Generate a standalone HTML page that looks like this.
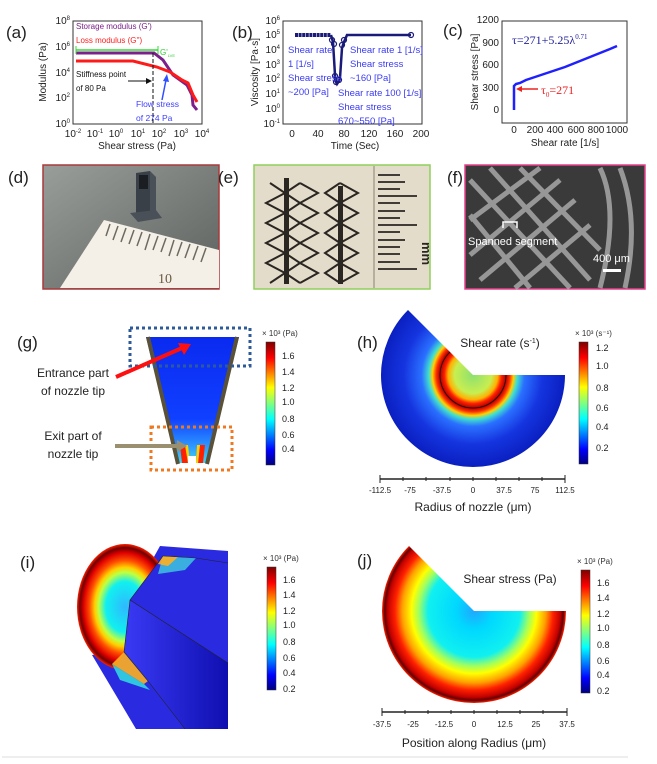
<!DOCTYPE html>
<html><head><meta charset="utf-8"><style>
body{margin:0;background:#fff}
svg{display:block;font-family:"Liberation Sans",sans-serif}
.t{font-size:10px;fill:#222}
.pl{font-size:17px;fill:#222}
.bl{font-size:9.5px;fill:#3b3bf2}
</style></head><body>
<svg width="657" height="764" viewBox="0 0 657 764" xmlns="http://www.w3.org/2000/svg">
<defs>
<linearGradient id="jet" x1="0" y1="1" x2="0" y2="0">
<stop offset="0" stop-color="#00007f"/><stop offset="0.12" stop-color="#0000ff"/><stop offset="0.37" stop-color="#00ffff"/><stop offset="0.5" stop-color="#80ff80"/><stop offset="0.63" stop-color="#ffff00"/><stop offset="0.87" stop-color="#ff0000"/><stop offset="1" stop-color="#7f0000"/>
</linearGradient>
<radialGradient id="gh" gradientUnits="userSpaceOnUse" cx="473" cy="375" r="92">
<stop offset="0" stop-color="#8ee070"/><stop offset="0.2" stop-color="#c8ee50"/><stop offset="0.27" stop-color="#ffb000"/><stop offset="0.31" stop-color="#ff2000"/><stop offset="0.36" stop-color="#b00000"/><stop offset="0.4" stop-color="#ff3000"/><stop offset="0.44" stop-color="#ffd000"/><stop offset="0.48" stop-color="#40e0d0"/><stop offset="0.56" stop-color="#2a70ff"/><stop offset="0.75" stop-color="#1535e0"/><stop offset="1" stop-color="#0a1fc0"/>
</radialGradient>
<radialGradient id="gj" gradientUnits="userSpaceOnUse" cx="474" cy="611" r="92">
<stop offset="0" stop-color="#20a8ff"/><stop offset="0.2" stop-color="#00d8ff"/><stop offset="0.5" stop-color="#10f0f0"/><stop offset="0.6" stop-color="#a0ff60"/><stop offset="0.68" stop-color="#ffff00"/><stop offset="0.78" stop-color="#ffa000"/><stop offset="0.86" stop-color="#ff2000"/><stop offset="0.94" stop-color="#c00000"/><stop offset="0.97" stop-color="#600000"/><stop offset="1" stop-color="#ff2000"/>
</radialGradient>
<radialGradient id="gi" cx="0.5" cy="0.5" r="0.5">
<stop offset="0" stop-color="#30b8ff"/><stop offset="0.4" stop-color="#10f0f0"/><stop offset="0.55" stop-color="#c0ff40"/><stop offset="0.63" stop-color="#ffd000"/><stop offset="0.74" stop-color="#ff5000"/><stop offset="0.86" stop-color="#e00000"/><stop offset="0.94" stop-color="#700000"/><stop offset="1" stop-color="#ff2000"/>
</radialGradient>
<linearGradient id="gblue" x1="0" y1="0" x2="1" y2="0"><stop offset="0" stop-color="#3a3af5"/><stop offset="1" stop-color="#0f0fb0"/></linearGradient>
<linearGradient id="gg" x1="0" y1="0" x2="0" y2="1"><stop offset="0" stop-color="#0a2af0"/><stop offset="0.65" stop-color="#1040ff"/><stop offset="0.85" stop-color="#2a90ff"/><stop offset="1" stop-color="#40d8f0"/></linearGradient>
<linearGradient id="gd" x1="0" y1="0" x2="1" y2="1"><stop offset="0" stop-color="#9a9e9a"/><stop offset="1" stop-color="#5c605e"/></linearGradient>
<clipPath id="ci"><polygon points="60,530 175,530 163,556 130,600 124,652 100,700 60,700"/></clipPath>
</defs>

<!-- (a) -->
<text class="pl" x="6" y="38">(a)</text>
<rect x="73" y="21" width="129" height="103" fill="none" stroke="#333" stroke-width="1"/>
<g class="t" text-anchor="end" font-size="9">
<text x="70" y="24">10<tspan dy="-4" font-size="6">8</tspan></text>
<text x="70" y="50">10<tspan dy="-4" font-size="6">6</tspan></text>
<text x="70" y="76">10<tspan dy="-4" font-size="6">4</tspan></text>
<text x="70" y="101">10<tspan dy="-4" font-size="6">2</tspan></text>
<text x="70" y="127">10<tspan dy="-4" font-size="6">0</tspan></text>
</g>
<g class="t" text-anchor="middle" font-size="9">
<text x="73" y="137">10<tspan dy="-4" font-size="6">-2</tspan></text>
<text x="95" y="137">10<tspan dy="-4" font-size="6">-1</tspan></text>
<text x="116" y="137">10<tspan dy="-4" font-size="6">0</tspan></text>
<text x="138" y="137">10<tspan dy="-4" font-size="6">1</tspan></text>
<text x="159" y="137">10<tspan dy="-4" font-size="6">2</tspan></text>
<text x="181" y="137">10<tspan dy="-4" font-size="6">3</tspan></text>
<text x="202" y="137">10<tspan dy="-4" font-size="6">4</tspan></text>
</g>
<text class="t" x="137" y="149" text-anchor="middle" font-size="8.5">Shear stress (Pa)</text>
<text class="t" transform="translate(46,72) rotate(-90)" text-anchor="middle" font-size="8.5">Modulus (Pa)</text>
<polyline points="76,53 154,53 163,60 173,75 187,85 192,95 193,105 197,110" fill="none" stroke="#7b1f8a" stroke-width="3"/>
<polyline points="76,61 133,61 157,67 170,72 182,80 188,83 193,95 197,102" fill="none" stroke="#ff1a1a" stroke-width="3"/>
<line x1="76" y1="50" x2="158" y2="50" stroke="#33dd33" stroke-width="1.5"/><line x1="76" y1="46" x2="76" y2="54" stroke="#33dd33"/><line x1="158" y1="46" x2="158" y2="54" stroke="#33dd33"/>
<text x="160" y="55" font-size="8" fill="#33cc33">G'<tspan font-size="4" dy="2">LVE</tspan></text>
<line x1="153" y1="53" x2="153" y2="124" stroke="#111" stroke-dasharray="4,2"/>
<line x1="128" y1="81" x2="150" y2="81" stroke="#111"/><polygon points="152,81 146,78 146,84" fill="#111"/>
<text x="76" y="29" font-size="8" fill="#7b1f8a">Storage modulus (G')</text>
<text x="76" y="43" font-size="8" fill="#ff2020">Loss modulus (G'')</text>
<text x="76" y="77" font-size="8" fill="#111">Stiffness point</text>
<text x="76" y="91" font-size="8" fill="#111">of 80 Pa</text>
<text x="136" y="107" font-size="8.5" fill="#4040ff">Flow stress</text>
<text x="136" y="121" font-size="8.5" fill="#4040ff">of 274 Pa</text>
<line x1="162" y1="100" x2="166" y2="80" stroke="#3050ff" stroke-width="1.5"/><polygon points="167,74 163,81 169,82" fill="#3050ff"/>

<!-- (b) -->
<text class="pl" x="232" y="38">(b)</text>
<rect x="283" y="21" width="139" height="103" fill="none" stroke="#333"/>
<g class="t" text-anchor="end" font-size="9">
<text x="280" y="24">10<tspan dy="-4" font-size="6">6</tspan></text>
<text x="280" y="38">10<tspan dy="-4" font-size="6">5</tspan></text>
<text x="280" y="53">10<tspan dy="-4" font-size="6">4</tspan></text>
<text x="280" y="68">10<tspan dy="-4" font-size="6">3</tspan></text>
<text x="280" y="82">10<tspan dy="-4" font-size="6">2</tspan></text>
<text x="280" y="97">10<tspan dy="-4" font-size="6">1</tspan></text>
<text x="280" y="112">10<tspan dy="-4" font-size="6">0</tspan></text>
<text x="280" y="127">10<tspan dy="-4" font-size="6">-1</tspan></text>
</g>
<g class="t" text-anchor="middle" font-size="9.5">
<text x="292" y="137">0</text><text x="318" y="137">40</text><text x="344" y="137">80</text><text x="369" y="137">120</text><text x="395" y="137">160</text><text x="421" y="137">200</text>
</g>
<text class="t" x="355" y="149" text-anchor="middle" font-size="10">Time (Sec)</text>
<text class="t" transform="translate(258,72) rotate(-90)" text-anchor="middle" font-size="10">Viscosity [Pa·s]</text>
<line x1="295" y1="35" x2="331" y2="35" stroke="#1a1a7a" stroke-width="4" stroke-dasharray="3,0.6"/>
<polyline points="331,35 333,42 335,75 335,80 337,84 339,81 340,78 342,48 344,42 347,35 411,35" fill="none" stroke="#1a1a7a" stroke-width="2.5"/>
<g fill="none" stroke="#1a1a7a" stroke-width="1.2">
<circle cx="332" cy="40" r="2.5"/><circle cx="334" cy="44" r="2.5"/><circle cx="335" cy="76" r="2.5"/><circle cx="336" cy="82" r="2.5"/><circle cx="339" cy="80" r="2.5"/><circle cx="342" cy="45" r="2.5"/><circle cx="344" cy="40" r="2.5"/><circle cx="411" cy="35" r="2.5"/>
</g>
<text class="bl" x="288" y="53">Shear rate</text><text class="bl" x="288" y="67">1 [1/s]</text><text class="bl" x="288" y="81">Shear stress</text><text class="bl" x="288" y="95">~200 [Pa]</text>
<text class="bl" x="350" y="53">Shear rate 1 [1/s]</text><text class="bl" x="350" y="67">Shear stress</text><text class="bl" x="350" y="81">~160 [Pa]</text>
<text class="bl" x="338" y="96">Shear rate 100 [1/s]</text><text class="bl" x="338" y="110">Shear stress</text><text class="bl" x="338" y="124">670~550 [Pa]</text>

<!-- (c) -->
<text class="pl" x="443" y="36">(c)</text>
<rect x="502" y="21" width="125" height="102" fill="none" stroke="#333"/>
<g class="t" text-anchor="end" font-size="8.5">
<text x="499" y="23">1200</text><text x="499" y="46">900</text><text x="499" y="68">600</text><text x="499" y="91">300</text><text x="499" y="113">0</text>
</g>
<g class="t" text-anchor="middle" font-size="8.5">
<text x="514" y="133">0</text><text x="535" y="133">200</text><text x="555" y="133">400</text><text x="576" y="133">600</text><text x="596" y="133">800</text><text x="617" y="133">1000</text>
</g>
<text class="t" x="565" y="146" text-anchor="middle" font-size="10.5">Shear rate [1/s]</text>
<text class="t" transform="translate(478,72) rotate(-90)" text-anchor="middle" font-size="10.5">Shear stress [Pa]</text>
<path d="M514,110 L514,86 L516,84 L520,83 L526,80 L535,77 L550,72 L565,67 L580,61 L595,55 L610,49 L617,46" fill="none" stroke="#2020ff" stroke-width="2.5"/>
<text x="512" y="44" font-family="Liberation Serif,serif" font-size="12" fill="#222299">τ=271+5.25λ<tspan dy="-5" font-size="7">0.71</tspan></text>
<text x="541" y="94" font-family="Liberation Serif,serif" font-size="12" fill="#ee2222">τ<tspan dy="3" font-size="7">0</tspan><tspan dy="-3">=271</tspan></text>
<line x1="538" y1="89" x2="521" y2="89" stroke="#ee2222" stroke-width="1.5"/><polygon points="516,89 522,86 522,92" fill="#ee2222"/>

<!-- photos -->
<text class="pl" x="8" y="183">(d)</text>
<rect x="43" y="165" width="176" height="124" fill="url(#gd)" stroke="#a83a3a" stroke-width="1.5"/>
<polygon points="104,220 219,250 219,288 60,288" fill="#f4f0e8"/>
<g stroke="#6d6a60" stroke-width="1.5"><line x1="110" y1="224" x2="106" y2="236"/><line x1="118" y1="226" x2="113" y2="240"/><line x1="126" y1="228" x2="121" y2="242"/><line x1="134" y1="230" x2="129" y2="244"/><line x1="142" y1="232" x2="137" y2="246"/><line x1="150" y1="234" x2="145" y2="250"/><line x1="158" y1="236" x2="153" y2="250"/><line x1="166" y1="238" x2="161" y2="252"/><line x1="174" y1="240" x2="169" y2="256"/><line x1="182" y1="242" x2="177" y2="256"/><line x1="190" y1="244" x2="185" y2="258"/><line x1="198" y1="246" x2="193" y2="260"/><line x1="206" y1="248" x2="201" y2="262"/></g>
<text x="158" y="283" font-family="Liberation Serif,serif" font-size="14" fill="#6a5a40">10</text>
<polygon points="136,173 150,171 150,216 136,218" fill="#3a4048"/><polygon points="150,171 156,177 156,213 150,216" fill="#4a5058"/><rect x="139" y="175" width="9" height="14" fill="#1a1e22"/><polygon points="130,213 156,210 162,218 138,222" fill="#4a5058"/>
<text class="pl" x="218" y="183">(e)</text>
<rect x="254" y="165" width="176" height="124" fill="#e4dccb" stroke="#8fcf5a" stroke-width="1.5"/>
<g fill="none" stroke="#2a2622" stroke-width="2">
<polyline points="270,183 285,193 266,203 285,213 266,223 285,233 266,243 285,253 266,263 285,273 270,283"/>
<polyline points="300,183 285,193 300,203 285,213 300,223 285,233 300,243 285,253 300,263 285,273 300,283"/>
<polyline points="300,183 318,193 300,203 318,213 300,223 318,233 300,243 318,253 300,263 318,273 300,283"/>
<polyline points="340,183 325,193 340,203 325,213 340,223 325,233 340,243 325,253 340,263 325,273 340,283"/>
<polyline points="340,183 358,193 340,203 358,213 340,223 358,233 340,243 358,253 340,263 358,273 340,283"/>
</g>
<rect x="284" y="178" width="5" height="106" fill="#2a2622"/><rect x="338" y="186" width="5" height="98" fill="#2a2622"/>
<line x1="374" y1="166" x2="374" y2="288" stroke="#8a8070"/>
<g stroke="#2a2622" stroke-width="1.8"><line x1="378" y1="175" x2="400" y2="175"/><line x1="378" y1="182" x2="405" y2="182"/><line x1="378" y1="189" x2="400" y2="189"/><line x1="378" y1="196" x2="417" y2="196"/><line x1="378" y1="203" x2="400" y2="203"/><line x1="378" y1="211" x2="405" y2="211"/><line x1="378" y1="218" x2="400" y2="218"/><line x1="378" y1="225" x2="417" y2="225"/><line x1="378" y1="232" x2="400" y2="232"/><line x1="378" y1="240" x2="405" y2="240"/><line x1="378" y1="247" x2="400" y2="247"/><line x1="378" y1="254" x2="400" y2="254"/><line x1="378" y1="262" x2="400" y2="262"/><line x1="378" y1="269" x2="417" y2="269"/></g>
<text transform="translate(422,242) rotate(90)" font-size="13" font-weight="bold" fill="#2a2622">mm</text>
<text class="pl" x="447" y="183">(f)</text>
<rect x="465" y="165" width="180" height="124" fill="#3a3a3a" stroke="#e6408a" stroke-width="1.5"/>
<g stroke="#a8a8a8" stroke-width="5" fill="none" opacity="0.85">
<line x1="470" y1="220" x2="540" y2="168"/><line x1="470" y1="255" x2="560" y2="180"/><line x1="480" y1="280" x2="575" y2="200"/><line x1="515" y1="288" x2="590" y2="225"/>
<line x1="470" y1="180" x2="570" y2="288"/><line x1="490" y1="168" x2="590" y2="280"/><line x1="520" y1="168" x2="600" y2="250"/><line x1="470" y1="215" x2="530" y2="288"/>
<path d="M600,168 Q620,210 600,288"/><path d="M620,168 Q640,220 625,288"/>
</g>
<text x="468" y="245" font-size="11" fill="#fff">Spanned segment</text>
<path d="M503,228 L503,222 L517,222 L517,228" stroke="#fff" fill="none" stroke-width="1.5"/>
<text x="593" y="262" font-size="11" fill="#fff">400 μm</text>
<rect x="603" y="269" width="18" height="3" fill="#fff"/>

<!-- (g) -->
<text class="pl" x="17" y="348">(g)</text>
<polygon points="146,337 239,337 208,463 177,463" fill="url(#gg)"/>
<polygon points="180,445 185,445 188,463 182,463" fill="#ff2000"/><polygon points="200,445 205,445 203,463 198,463" fill="#ff2000"/>
<polygon points="185,445 188,445 190,463 188,463" fill="#ffd000"/><polygon points="197,445 200,445 198,463 196,463" fill="#ffd000"/>
<rect x="188" y="456" width="8" height="8" fill="#fff"/>
<line x1="148" y1="337" x2="178" y2="464" stroke="#5a5238" stroke-width="4"/>
<line x1="237" y1="337" x2="207" y2="464" stroke="#5a5238" stroke-width="4"/>
<rect x="130" y="328" width="120" height="38" fill="none" stroke="#2e5a9a" stroke-width="3" stroke-dasharray="3,3"/>
<rect x="151" y="427" width="81" height="43" fill="none" stroke="#f07820" stroke-width="3" stroke-dasharray="3,3"/>
<line x1="116" y1="377" x2="182" y2="348" stroke="#ff1010" stroke-width="4"/><polygon points="191,344 178,343 184,355" fill="#ff1010"/>
<line x1="115" y1="446" x2="178" y2="446" stroke="#9a9070" stroke-width="4"/><polygon points="187,446 177,440 177,452" fill="#9a9070"/>
<g font-size="12" fill="#222" text-anchor="middle"><text x="73" y="377">Entrance part</text><text x="73" y="395">of nozzle tip</text><text x="73" y="440">Exit part of</text><text x="73" y="458">nozzle tip</text></g>
<rect x="266" y="342" width="9" height="123" fill="url(#jet)" stroke="#333" stroke-width="0.5"/>
<text x="262" y="336" font-size="8" fill="#333">× 10³ (Pa)</text>
<g font-size="9" fill="#222"><text x="282" y="359">1.6</text><text x="282" y="375">1.4</text><text x="282" y="391">1.2</text><text x="282" y="405">1.0</text><text x="282" y="422">0.8</text><text x="282" y="438">0.6</text><text x="282" y="452">0.4</text></g>

<!-- (h) -->
<text class="pl" x="357" y="348">(h)</text>
<path d="M473,375 L565,375 A92,92 0 0 1 381,375 A92,92 0 0 1 408,310 Z" fill="url(#gh)"/>
<path d="M440,375 A33,33 0 0 0 506,375" fill="none" stroke="#111" stroke-width="0.8"/>
<path d="M440,375 A33,33 0 0 1 450,352" fill="none" stroke="#111" stroke-width="0.8"/>
<text x="500" y="347" font-size="12" fill="#222" text-anchor="middle">Shear rate (s<tspan dy="-4" font-size="7">-1</tspan><tspan dy="4">)</tspan></text>
<rect x="579" y="342" width="9" height="122" fill="url(#jet)" stroke="#333" stroke-width="0.5"/>
<text x="575" y="336" font-size="8" fill="#333">× 10³ (s⁻¹)</text>
<g font-size="9" fill="#222"><text x="596" y="351">1.2</text><text x="596" y="369">1.0</text><text x="596" y="391">0.8</text><text x="596" y="411">0.6</text><text x="596" y="430">0.4</text><text x="596" y="451">0.2</text></g>
<line x1="380" y1="479" x2="565" y2="479" stroke="#222" stroke-width="1.5"/>
<g stroke="#222"><line x1="380" y1="475" x2="380" y2="483"/><line x1="403" y1="477" x2="403" y2="481"/><line x1="426" y1="477" x2="426" y2="481"/><line x1="450" y1="477" x2="450" y2="481"/><line x1="473" y1="477" x2="473" y2="481"/><line x1="496" y1="477" x2="496" y2="481"/><line x1="519" y1="477" x2="519" y2="481"/><line x1="542" y1="477" x2="542" y2="481"/><line x1="565" y1="475" x2="565" y2="483"/></g>
<g font-size="8" fill="#222" text-anchor="middle"><text x="380" y="493">-112.5</text><text x="410" y="493">-75</text><text x="442" y="493">-37.5</text><text x="473" y="493">0</text><text x="504" y="493">37.5</text><text x="535" y="493">75</text><text x="565" y="493">112.5</text></g>
<text x="473" y="511" font-size="12" fill="#222" text-anchor="middle">Radius of nozzle (μm)</text>

<!-- (i) -->
<text class="pl" x="20" y="568">(i)</text>
<polygon points="160,546 228,551 228,729 136,729 92,655 124,652 130,600" fill="#2a2ae0"/>
<polygon points="130,600 228,663 228,729 185,729 148,681 124,652" fill="url(#gblue)"/>
<ellipse cx="125" cy="607" rx="48" ry="63" fill="url(#gi)" clip-path="url(#ci)"/>
<polygon points="163,556 196,558 185,570 158,574" fill="#40d0e0" opacity="0.8"/>
<polygon points="163,556 178,557 168,566 158,564" fill="#ffb020" opacity="0.9"/>
<polygon points="124,652 148,681 144,684 112,664" fill="#ffb020" opacity="0.9"/>
<polygon points="112,664 144,684 150,690 120,680" fill="#30e0e0" opacity="0.85"/>
<g stroke="#222" stroke-width="0.6" fill="none"><polyline points="163,556 130,600 124,652 148,681 185,729"/><line x1="130" y1="600" x2="228" y2="663"/><polyline points="163,556 196,558 228,563"/></g>
<rect x="267" y="567" width="9" height="123" fill="url(#jet)" stroke="#333" stroke-width="0.5"/>
<text x="263" y="561" font-size="8" fill="#333">× 10³ (Pa)</text>
<g font-size="9" fill="#222"><text x="283" y="583">1.6</text><text x="283" y="598">1.4</text><text x="283" y="614">1.2</text><text x="283" y="628">1.0</text><text x="283" y="645">0.8</text><text x="283" y="661">0.6</text><text x="283" y="676">0.4</text><text x="283" y="692">0.2</text></g>

<!-- (j) -->
<text class="pl" x="357" y="566">(j)</text>
<path d="M474,611 L566,611 A92,92 0 0 1 382,611 A92,92 0 0 1 409,546 Z" fill="url(#gj)"/>
<text x="510" y="583" font-size="12" fill="#222" text-anchor="middle">Shear stress (Pa)</text>
<rect x="581" y="570" width="9" height="123" fill="url(#jet)" stroke="#333" stroke-width="0.5"/>
<text x="577" y="564" font-size="8" fill="#333">× 10³ (Pa)</text>
<g font-size="9" fill="#222"><text x="597" y="586">1.6</text><text x="597" y="601">1.4</text><text x="597" y="617">1.2</text><text x="597" y="631">1.0</text><text x="597" y="648">0.8</text><text x="597" y="664">0.6</text><text x="597" y="678">0.4</text><text x="597" y="694">0.2</text></g>
<line x1="382" y1="712" x2="567" y2="712" stroke="#222" stroke-width="1.5"/>
<g stroke="#222"><line x1="382" y1="708" x2="382" y2="716"/><line x1="405" y1="710" x2="405" y2="714"/><line x1="428" y1="710" x2="428" y2="714"/><line x1="451" y1="710" x2="451" y2="714"/><line x1="474" y1="710" x2="474" y2="714"/><line x1="497" y1="710" x2="497" y2="714"/><line x1="520" y1="710" x2="520" y2="714"/><line x1="543" y1="710" x2="543" y2="714"/><line x1="567" y1="708" x2="567" y2="716"/></g>
<g font-size="8" fill="#222" text-anchor="middle"><text x="382" y="727">-37.5</text><text x="413" y="727">-25</text><text x="444" y="727">-12.5</text><text x="474" y="727">0</text><text x="505" y="727">12.5</text><text x="536" y="727">25</text><text x="567" y="727">37.5</text></g>
<text x="474" y="747" font-size="12" fill="#222" text-anchor="middle">Position along Radius (μm)</text>
<line x1="2" y1="757" x2="628" y2="757" stroke="#ddd"/>
</svg>
</body></html>
